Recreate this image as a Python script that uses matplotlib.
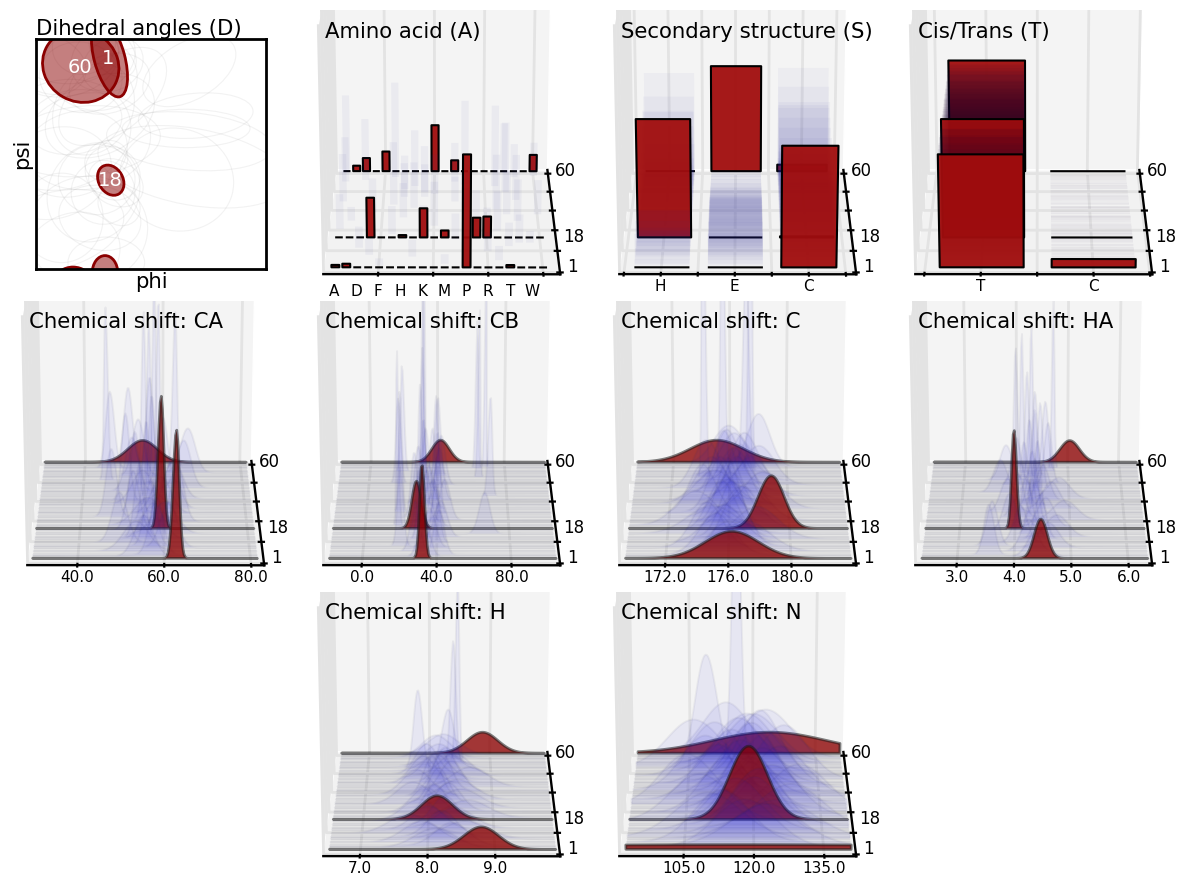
import numpy as np
import matplotlib
matplotlib.use('Agg')
import matplotlib.pyplot as plt
from matplotlib.patches import Ellipse
from matplotlib.transforms import Bbox, TransformedBbox, Affine2D
from mpl_toolkits.mplot3d.art3d import Poly3DCollection

FIG_W, FIG_H = 1179, 882

# residues that are drawn faintly (1, 18, 60 are the highlighted ones)
residues = [2, 3, 5, 7, 8, 10,
            12, 13, 15, 17, 19, 20,
            22, 23, 25, 27, 28, 30,
            32, 33, 35, 36, 38, 40,
            41, 43, 45, 46, 48, 50,
            51, 53, 54, 56, 57, 59]
highlight = [60, 18, 1]
n_residues = 60
ytick_pos = [-2, 10, 22, 34, 46, 58]

# Chemical shifts: (mean, sd) of the highlighted residues 60, 18, 1
ca_red_mean = [54.7, 59.2, 62.6]
ca_red_sd = [3.8, 0.68, 0.72]
cb_red_mean = [41.5, 28.5, 32.0]
cb_red_sd = [5.2, 2.6, 1.35]
c_red_mean = [175.05, 178.75, 176.2]
c_red_sd = [1.9, 0.85, 1.7]
ha_red_mean = [5.03, 3.98, 4.46]
ha_red_sd = [0.19, 0.045, 0.115]
h_red_mean = [8.87, 8.13, 8.79]
h_red_sd = [0.254, 0.24, 0.26]
n_red_mean = [124.0, 118.8, 120.0]
n_red_sd = [13.6, 4.2, 66.0]

ca_mean = [55.2, 58.1, 53.4, 61.0, 56.7, 49.5,
           57.3, 54.2, 60.1, 52.6, 58.9, 56.1,
           63.2, 55.7, 47.3, 59.4, 53.0, 61.8,
           57.0, 54.8, 50.6, 62.4, 56.3, 58.6,
           52.1, 65.0, 55.0, 59.8, 45.6, 57.6,
           53.6, 66.2, 56.5, 46.4, 62.9, 51.0]
ca_sd = [2.2, 1.6, 3.0, 2.0, 1.4, 1.8,
         2.5, 1.2, 2.8, 1.5, 1.0, 3.2,
         1.6, 0.9, 1.3, 2.4, 1.1, 1.9,
         0.8, 2.6, 1.0, 2.2, 0.5, 0.45,
         1.6, 1.8, 0.5, 1.3, 0.5, 0.4,
         1.5, 1.9, 0.9, 1.1, 0.55, 1.1]

cb_mean = [33, 41, 28, 36, 20, 39,
           31, 42, 66, 30, 38, 18,
           34, 44, 27, 40, 19, 35,
           32, 29, 41, 37, 70, 30,
           33, 39, 42, 17, 31, 64,
           40, 32, 19, 63, 68, 31]
cb_sd = [3.0, 2.8, 2.5, 3.2, 1.6, 2.2,
         1.8, 3.4, 3.0, 2.0, 2.6, 0.7,
         2.4, 3.0, 1.9, 1.5, 1.0, 2.8,
         1.4, 2.1, 2.3, 1.7, 1.2, 1.1,
         1.9, 1.3, 2.4, 1.4, 0.9, 0.7,
         1.5, 0.4, 1.1, 0.8, 0.5, 0.6]

c_mean = [176.0, 175.2, 177.1, 174.6, 176.4, 175.7,
          177.8, 176.2, 174.9, 175.5, 176.8, 173.8,
          175.9, 177.3, 176.1, 174.2, 175.4, 178.2,
          176.5, 175.0, 174.8, 176.7, 177.5, 175.6,
          176.3, 174.4, 178.0, 175.8, 177.0, 174.2,
          176.3, 175.5, 177.1, 177.4, 178.0, 175.9]
c_sd = [1.3, 1.1, 1.5, 1.0, 0.9, 1.2,
        1.4, 0.8, 1.6, 0.9, 1.1, 1.3,
        0.7, 1.2, 1.0, 0.9, 0.8, 1.2,
        0.9, 1.3, 1.0, 0.8, 1.1, 0.7,
        1.0, 0.9, 1.1, 0.8, 0.9, 0.12,
        1.0, 0.15, 0.21, 0.12, 0.8, 1.1]

ha_mean = [4.40, 3.55, 4.25, 4.60, 3.60, 4.10,
           4.45, 4.75, 4.30, 3.90, 4.55, 4.20,
           4.35, 4.90, 4.05, 4.40, 3.85, 4.65,
           4.30, 4.15, 4.50, 4.80, 4.35, 3.70,
           4.25, 4.45, 4.00, 4.60, 3.80, 4.20,
           4.35, 4.10, 4.55, 4.70, 3.98, 4.28]
ha_sd = [0.16, 0.09, 0.14, 0.18, 0.10, 0.12,
         0.10, 0.20, 0.08, 0.12, 0.15, 0.09,
         0.07, 0.22, 0.10, 0.06, 0.13, 0.16,
         0.08, 0.07, 0.12, 0.20, 0.05, 0.13,
         0.06, 0.05, 0.09, 0.07, 0.12, 0.04,
         0.05, 0.03, 0.06, 0.025, 0.035, 0.03]

h_mean = [8.10, 8.35, 7.90, 8.55, 8.20, 7.70,
          8.00, 8.40, 8.25, 7.85, 8.60, 8.10,
          7.95, 8.30, 8.50, 7.75, 8.15, 8.45,
          8.05, 7.80, 8.35, 8.20, 8.65, 7.90,
          8.25, 8.10, 8.40, 7.95, 8.20, 7.81,
          8.15, 8.30, 8.38, 8.45, 8.10, 8.22]
h_sd = [0.30, 0.25, 0.28, 0.33, 0.22, 0.30,
        0.24, 0.28, 0.20, 0.26, 0.32, 0.18,
        0.22, 0.20, 0.30, 0.25, 0.16, 0.28,
        0.14, 0.22, 0.18, 0.15, 0.28, 0.20,
        0.16, 0.22, 0.24, 0.18, 0.26, 0.07,
        0.24, 0.10, 0.045, 0.03, 0.24, 0.26]

n_mean = [118.0, 122.5, 113.0, 125.0, 110.0, 120.0,
          116.0, 128.0, 121.0, 108.0, 119.0, 124.0,
          114.0, 130.0, 118.5, 105.0, 122.0, 112.0,
          126.0, 117.0, 120.5, 109.0, 123.0, 115.0,
          119.5, 127.0, 111.0, 121.5, 116.5, 109.0,
          106.0, 118.5, 120.0, 116.0, 123.0, 113.5]
n_sd = [6.5, 7.5, 6.0, 8.0, 7.0, 5.5,
        6.0, 7.0, 5.5, 6.5, 5.0, 6.0,
        5.5, 6.5, 5.0, 6.0, 5.5, 5.5,
        6.0, 5.5, 5.0, 5.5, 5.5, 5.5,
        5.0, 5.5, 5.5, 4.6, 5.5, 2.6,
        6.2, 5.8, 6.0, 1.0, 6.0, 5.5]

# Amino acid probabilities of the highlighted residues
aa_letters = ['A', 'C', 'D', 'E', 'F', 'G', 'H', 'I', 'K', 'L',
              'M', 'N', 'P', 'Q', 'R', 'S', 'T', 'V', 'W', 'Y']
aa_res60 = {'C': 0.05, 'D': 0.12, 'F': 0.18, 'L': 0.42, 'N': 0.10, 'Y': 0.15}
aa_res18 = {'E': 0.34, 'H': 0.02, 'K': 0.25, 'M': 0.06, 'Q': 0.17, 'R': 0.18}
aa_res1 = {'A': 0.02, 'C': 0.03, 'P': 0.93, 'T': 0.02}
# faint bars: residue, amino acid, probability
aa_faint_res = [59, 57, 56, 54, 53, 51, 50, 48, 46, 45, 43, 41,
                40, 38, 36, 35, 33, 32, 30, 28, 27, 25, 23, 22,
                20, 19, 17, 15, 13, 12, 10, 8, 7, 5, 3, 2,
                59, 56, 53, 50, 46, 43, 40, 36, 32, 28, 22, 15]
aa_faint_aa = ['A', 'Y', 'G', 'D', 'N', 'P', 'S', 'H', 'T', 'L', 'K', 'V',
               'A', 'G', 'I', 'S', 'E', 'T', 'H', 'V', 'Q', 'L', 'A', 'S',
               'G', 'K', 'N', 'V', 'T', 'D', 'R', 'E', 'I', 'S', 'M', 'F',
               'T', 'V', 'A', 'I', 'K', 'H', 'N', 'P', 'Y', 'C', 'R', 'W']
aa_faint_p = [0.70, 0.30, 0.85, 0.55, 0.35, 0.75, 0.72, 0.30, 0.62, 0.35, 0.45, 0.40,
              0.42, 0.55, 0.40, 0.48, 0.30, 0.38, 0.30, 0.36, 0.28, 0.38, 0.30, 0.34,
              0.24, 0.26, 0.22, 0.24, 0.20, 0.18, 0.16, 0.14, 0.14, 0.12, 0.08, 0.06,
              0.45, 0.30, 0.40, 0.50, 0.25, 0.30, 0.22, 0.18, 0.30, 0.12, 0.20, 0.10]

# Secondary structure probabilities, same order as residues
ss_labels = ['H', 'E', 'C']
ss_res60 = [0.00, 0.95, 0.06]
ss_res18 = [1.00, 0.00, 0.01]
ss_res1 = [0.00, 0.00, 1.00]
ss_h = [0.05, 0.25, 0.10, 0.30, 0.12, 0.20,
        0.15, 0.30, 0.10, 0.25, 0.20, 0.15,
        0.30, 0.15, 0.35, 0.20, 0.40, 0.25,
        0.45, 0.20, 0.50, 0.30, 0.35, 0.25,
        0.55, 0.20, 0.60, 0.15, 0.70, 0.25,
        0.65, 0.10, 0.75, 0.30, 0.02, 0.90]
ss_e = [0.25, 0.25, 0.25, 0.20, 0.28, 0.25,
        0.25, 0.25, 0.25, 0.25, 0.25, 0.25,
        0.25, 0.25, 0.25, 0.20, 0.20, 0.20,
        0.15, 0.15, 0.15, 0.15, 0.15, 0.10,
        0.10, 0.10, 0.10, 0.05, 0.05, 0.05,
        0.05, 0.05, 0.05, 0.05, 0.01, 0.02]
ss_c = [0.70, 0.50, 0.65, 0.50, 0.60, 0.55,
        0.60, 0.45, 0.65, 0.50, 0.55, 0.60,
        0.45, 0.60, 0.40, 0.60, 0.40, 0.55,
        0.40, 0.65, 0.35, 0.55, 0.50, 0.65,
        0.35, 0.70, 0.30, 0.80, 0.25, 0.70,
        0.30, 0.85, 0.20, 0.65, 0.97, 0.08]

# Cis/Trans probabilities
tc_labels = ['T', 'C']
tc_res60 = [1.00, 0.00]
tc_res18 = [1.00, 0.00]
tc_res1 = [0.93, 0.07]
tc_t = [0.96, 0.98, 0.97, 0.99, 0.98, 0.97,
        0.99, 0.98, 0.96, 0.99, 0.98, 0.97,
        0.99, 0.97, 0.98, 0.99, 0.96, 0.98,
        0.99, 0.98, 0.97, 0.99, 0.98, 0.99,
        0.97, 0.98, 0.99, 0.98, 0.97, 0.99,
        0.98, 0.99, 0.97, 0.98, 0.99, 0.98]
tc_c = [0.04, 0.02, 0.03, 0.01, 0.02, 0.03,
        0.01, 0.02, 0.04, 0.01, 0.02, 0.03,
        0.01, 0.03, 0.02, 0.01, 0.04, 0.02,
        0.01, 0.02, 0.03, 0.01, 0.02, 0.01,
        0.03, 0.02, 0.01, 0.02, 0.03, 0.01,
        0.02, 0.01, 0.03, 0.02, 0.01, 0.02]

# Dihedral ellipses: phi, psi, width, height, angle
rama_red_phi = [-110, -65, -63, -72, -122]
rama_red_psi = [138, 150, -41, -186, -199]
rama_red_w = [122, 125, 50, 54, 56]
rama_red_h = [112, 48, 38, 40, 44]
rama_red_angle = [-30, -75, -60, 90, 0]
rama_labels = ['60', '1', '18']
rama_label_phi = [-111, -67, -63]
rama_label_psi = [135, 150, -41]

rama_phi = [-100, -60, -120, -85, -70, -140, -95, -60, -110, -75, -130, -65,
            -90, -150, -55, -100, -80, -125, -70, -105, -60, -135, 60, 55,
            65, 70, -80, -120, -90, -60, -140, 40, 60, -150, -75, -105, -50, -160]
rama_psi = [20, -30, 0, -40, -10, 30, 130, 140, 120, 150, 160, 110,
            -60, -30, -45, -120, -100, -160, -170, 170, 160, 150, 20, 40,
            -20, 60, 60, 50, 70, 90, -100, -40, 130, -120, -60, 20, -80, 140]
rama_w = [200, 90, 170, 120, 60, 220, 150, 100, 130, 110, 160, 90,
          140, 180, 70, 190, 130, 160, 120, 100, 90, 170, 90, 60,
          120, 70, 180, 150, 120, 200, 130, 160, 90, 220, 100, 240, 60, 120]
rama_h = [150, 80, 130, 110, 70, 170, 120, 80, 110, 90, 100, 130,
          160, 140, 90, 170, 100, 130, 80, 90, 60, 120, 260, 200,
          300, 180, 120, 100, 150, 110, 140, 180, 160, 120, 100, 110, 70, 90]
rama_angle = [10, -40, 20, 0, -60, 15, -20, 30, -10, 45, 0, -70,
              -30, 20, 60, 10, -15, 30, 0, 20, -50, 10, 85, 90,
              80, 95, 25, 10, -30, 40, 0, 75, -60, 15, -35, 5, 50, -20]

# panels: title, column, row, xlim, baseline range, xticks, px per unit density
shift_panels = [
    ('Chemical shift: CA', 0, 1, (28.5, 83.0), (29.4, 81.5), [40.0, 60.0, 80.0], 238, ca_red_mean, ca_red_sd, ca_mean, ca_sd),
    ('Chemical shift: CB', 1, 1, (-20.5, 106.0), (-18.0, 104.0), [0.0, 40.0, 80.0], 330, cb_red_mean, cb_red_sd, cb_mean, cb_sd),
    ('Chemical shift: C', 2, 1, (169.1, 184.1), (169.4, 183.8), [172.0, 176.0, 180.0], 120, c_red_mean, c_red_sd, c_mean, c_sd),
    ('Chemical shift: HA', 3, 1, (2.28, 6.41), (2.37, 6.34), [3.0, 4.0, 5.0, 6.0], 11.8, ha_red_mean, ha_red_sd, ha_mean, ha_sd),
    ('Chemical shift: H', 1, 2, (6.46, 9.96), (6.53, 9.9), [7.0, 8.0, 9.0], 15.3, h_red_mean, h_red_sd, h_mean, h_sd),
    ('Chemical shift: N', 2, 2, (91.3, 141.8), (92.4, 140.8), [105.0, 120.0, 135.0], 822, n_red_mean, n_red_sd, n_mean, n_sd),
]

COL_X = [146, 442, 738, 1034]
ROW_TOP = [10, 301, 592]
AX_SIZE = 386
BOX = (1.09, 1.29, 1.2)
FRONT_PX = 248.0
RED = (0.545, 0.0, 0.0)
BAR_RED = (0.63, 0.05, 0.05)
BLUE = (0.08, 0.08, 0.88)
LIGHT_GRID = (0.89, 0.89, 0.89, 1.0)
TITLE_SIZE = 15.3

fig = plt.figure(figsize=(FIG_W / 100, FIG_H / 100), dpi=100, facecolor='white')


def make_3d_axes(col, row, xlim, zmax, xticks, xticklabels=None):
    '''Set up one tilted panel. The clip box is the panel area, not the axes.'''
    top = ROW_TOP[row]
    cx = COL_X[col]
    cy = top - 104.5 + AX_SIZE * 0.5135
    left = cx - 0.5135 * AX_SIZE
    bottom = FIG_H - (cy + 0.5135 * AX_SIZE)
    ax = fig.add_axes([left / FIG_W, bottom / FIG_H, AX_SIZE / FIG_W, AX_SIZE / FIG_H],
                      projection='3d', computed_zorder=False)
    ax.patch.set_visible(False)
    norm = np.sqrt(sum(b * b for b in BOX))
    ax.set_box_aspect(BOX, zoom=norm / (1.8294640721620434 * 25 / 24))
    ax.view_init(elev=20, azim=-89.9)
    ax.set_xlim(xlim[0], xlim[1], view_margin=0)
    ax.set_ylim(-3, 60.5, view_margin=0)
    ax.set_zlim(0, zmax, view_margin=0)

    ax.set_xticks(xticks)
    ax.set_xticklabels(xticklabels if xticklabels is not None else ['%.1f' % t for t in xticks], fontsize=11)
    ax.set_yticks(ytick_pos)
    ax.set_yticklabels([])
    ax.set_zticks([])

    box = TransformedBbox(Bbox([[0, (FIG_H - top - 290) / 100], [FIG_W / 100, (FIG_H - top) / 100]]),
                          Affine2D().scale(100))
    ax.panel_clip = box

    ax.xaxis.set_pane_color((0.90, 0.90, 0.90, 1.0))
    ax.yaxis.set_pane_color((0.957, 0.957, 0.957, 1.0))
    ax.zaxis.set_pane_color((0.95, 0.95, 0.95, 1.0))
    for axis in (ax.xaxis, ax.yaxis, ax.zaxis):
        axis.pane.set_edgecolor((1, 1, 1, 0))
        axis.pane.set_clip_box(box)
        axis.gridlines.set_clip_box(box)
        axis._axinfo['grid'].update(color=LIGHT_GRID, linewidth=2.0)
        axis._axinfo['tick'].update(inward_factor=0.14, outward_factor=0.14)
        axis._axinfo['tick']['linewidth'] = {True: 1.6, False: 1.0}
        axis.line.set_linewidth(1.7)
    ax.zaxis.line.set_color((0, 0, 0, 0))
    ax.tick_params(axis='x', pad=-6)

    for i, res in enumerate(highlight):
        ax.text(xlim[1] + 0.035 * (xlim[1] - xlim[0]), res, 0, str(res), fontsize=12, ha='left', va='center')
    return ax


def add_poly(ax, verts, face, edge, lw, z):
    poly = Poly3DCollection(verts, facecolors=[face], edgecolors=[edge], linewidths=lw)
    ax.add_collection3d(poly, autolim=False)
    poly.set_clip_box(ax.panel_clip)
    poly.set_zorder(z)


def ridge(ax, x, res, mean, sd, face, edge, lw, z):
    dens = np.exp(-0.5 * ((x - mean) / sd) ** 2) / (sd * np.sqrt(2 * np.pi))
    verts = list(zip(x, [res] * len(x), dens))
    verts += [(x[-1], res, 0), (x[0], res, 0)]
    add_poly(ax, [verts], face, edge, lw, z)


def baseline(ax, x, res, z):
    verts = [(x[0], res, 0), (x[-1], res, 0)]
    add_poly(ax, [verts], (0, 0, 0, 0), (0.3, 0.3, 0.3, 0.06), 2.0, z)


def bar(ax, pos, res, p, width, face, edge, lw, z):
    h = width / 2
    verts = [(pos - h, res, 0), (pos + h, res, 0), (pos + h, res, p), (pos - h, res, p)]
    add_poly(ax, [verts], face, edge, lw, z)


def draw_stack(ax, positions, width, faint, red, faint_face):
    '''Draw back to front so the layers build up as in the reference.'''
    order = sorted(set(residues) | set(highlight), reverse=True)
    for z, res in enumerate(order):
        if res in red:
            for pos, p in zip(positions, red[res]):
                bar(ax, pos, res, p, width, BAR_RED + (0.95,), (0, 0, 0, 1), 1.5, 10 + z)
        else:
            for pos, p in faint[res]:
                bar(ax, pos, res, p, width, faint_face, (0, 0, 0, 0), 0, 10 + z)


# --- Dihedral angles ---
ax = fig.add_axes([36 / FIG_W, 1 - 269 / FIG_H, 230 / FIG_W, 230 / FIG_H])
for p, s, w, h, a in zip(rama_phi, rama_psi, rama_w, rama_h, rama_angle):
    ax.add_patch(Ellipse((p, s), w, h, angle=a, fill=False, edgecolor=(0.3, 0.3, 0.3, 0.07), lw=0.8))
for p, s, w, h, a in zip(rama_red_phi, rama_red_psi, rama_red_w, rama_red_h, rama_red_angle):
    ax.add_patch(Ellipse((p, s), w, h, angle=a, facecolor=RED + (0.5,), edgecolor=RED + (1.0,), lw=2))
for t, p, s in zip(rama_labels, rama_label_phi, rama_label_psi):
    ax.text(p, s, t, color='white', fontsize=14, ha='center', va='center')
ax.set_xlim(-180, 180)
ax.set_ylim(-180, 180)
ax.set_xticks([])
ax.set_yticks([])
for sp in ax.spines.values():
    sp.set_linewidth(2)
ax.set_xlabel('phi', fontsize=TITLE_SIZE, labelpad=2)
ax.set_ylabel('psi', fontsize=TITLE_SIZE, labelpad=3)
ax.set_title('Dihedral angles (D)', fontsize=TITLE_SIZE, loc='left', pad=3)

# --- Amino acid ---
aa_pos = {a: i for i, a in enumerate(aa_letters)}
aa_faint = {r: [] for r in residues}
for r, a, p in zip(aa_faint_res, aa_faint_aa, aa_faint_p):
    aa_faint[r].append((aa_pos[a], p))
aa_red = {
    60: [aa_res60.get(a, 0.0) for a in aa_letters],
    18: [aa_res18.get(a, 0.0) for a in aa_letters],
    1: [aa_res1.get(a, 0.0) for a in aa_letters],
}
ax = make_3d_axes(1, 0, (-0.97, 20.53), FRONT_PX / 125, [4, 9, 14, 19], ['', '', '', ''])
draw_stack(ax, list(range(20)), 0.72, aa_faint, aa_red, (0.2, 0.2, 0.6, 0.05))
for i in range(0, 20, 2):
    ax.text(i, -3, -0.08, aa_letters[i], fontsize=11, ha='center', va='top', zdir=None)
fig.text(325 / FIG_W, 1 - 32 / FIG_H, 'Amino acid (A)', fontsize=TITLE_SIZE, va='center')

# --- Secondary structure ---
ss_faint = {r: [(0, h), (1, e), (2, c)] for r, h, e, c in zip(residues, ss_h, ss_e, ss_c)}
ss_red = {60: ss_res60, 18: ss_res18, 1: ss_res1}
ax = make_3d_axes(2, 0, (-0.56, 2.64), FRONT_PX / 125, [-0.5, 0, 0.5, 1, 1.5, 2, 2.5],
                  ['', 'H', '', 'E', '', 'C', ''])
draw_stack(ax, [0, 1, 2], 0.75, ss_faint, ss_red, (0.16, 0.16, 0.6, 0.04))
fig.text(621 / FIG_W, 1 - 32 / FIG_H, 'Secondary structure (S)', fontsize=TITLE_SIZE, va='center')

# --- Cis / Trans ---
tc_faint = {r: [(0, t), (1, c)] for r, t, c in zip(residues, tc_t, tc_c)}
tc_red = {60: tc_res60, 18: tc_res18, 1: tc_res1}
ax = make_3d_axes(3, 0, (-0.58, 1.52), FRONT_PX / 125, [-0.5, 0, 0.5, 1, 1.5], ['', 'T', '', 'C', ''])
draw_stack(ax, [0, 1], 0.75, tc_faint, tc_red, (0.1, 0.02, 0.2, 0.05))
fig.text(918 / FIG_W, 1 - 32 / FIG_H, 'Cis/Trans (T)', fontsize=TITLE_SIZE, va='center')

# --- Chemical shifts ---
TITLE_X = [29, 325, 621, 918]
for title, col, row, xlim, xr, xticks, dens_px, red_mean, red_sd, means, sds in shift_panels:
    ax = make_3d_axes(col, row, xlim, FRONT_PX / dens_px, xticks)
    x = np.linspace(xr[0], xr[1], 200)
    for res in range(n_residues, 0, -1):
        baseline(ax, x, res, 5)
    z = 10
    for res, m, s in sorted(zip(residues + highlight, means + red_mean, sds + red_sd), reverse=True):
        z += 1
        if res in highlight:
            ridge(ax, x, res, m, s, RED + (0.78,), (0.1, 0.1, 0.1, 0.55), 2.0, z)
        else:
            ridge(ax, x, res, m, s, BLUE + (0.06,), (0.15, 0.15, 0.35, 0.06), 1.4, z)
    fig.text(TITLE_X[col] / FIG_W, 1 - (ROW_TOP[row] + 21) / FIG_H, title, fontsize=TITLE_SIZE, va='center')

fig.savefig('out.png', dpi=100)
